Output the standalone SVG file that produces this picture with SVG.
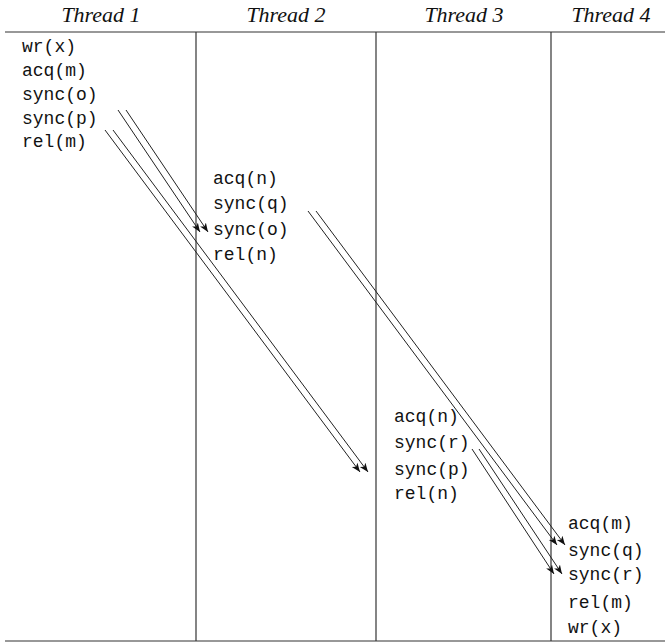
<svg xmlns="http://www.w3.org/2000/svg" width="665" height="644" viewBox="0 0 665 644">
<style>
.hdr{font-family:"Liberation Serif",serif;font-style:italic;font-size:22px;fill:#111;text-anchor:middle}
.op{font-family:"Liberation Mono",monospace;font-size:18px;fill:#111}
.rule{stroke:#333;stroke-width:1.2;fill:none}
.msg{stroke:#222;stroke-width:1;fill:none;marker-end:url(#ah)}
</style>
<defs>
<marker id="ah" markerUnits="userSpaceOnUse" markerWidth="11" markerHeight="9" refX="9" refY="3.5" orient="auto">
<path d="M0,0 L9,3.5 L0,7 L2.5,3.5 z" fill="#111"/>
</marker>
</defs>
<g id="frame">
<line class="rule" x1="5" y1="32" x2="665" y2="32"/>
<line class="rule" x1="5" y1="641" x2="665" y2="641"/>
<line class="rule" x1="196" y1="32" x2="196" y2="641"/>
<line class="rule" x1="376" y1="32" x2="376" y2="641"/>
<line class="rule" x1="551" y1="32" x2="551" y2="641"/>
</g>
<g id="thread1">
<text class="hdr" x="101" y="22">Thread 1</text>
<text class="op" x="22" y="52">wr(x)</text>
<text class="op" x="22" y="76">acq(m)</text>
<text class="op" x="22" y="100">sync(o)</text>
<text class="op" x="22" y="124">sync(p)</text>
<text class="op" x="22" y="147">rel(m)</text>
</g>
<g id="thread2">
<text class="hdr" x="286" y="22">Thread 2</text>
<text class="op" x="213" y="184">acq(n)</text>
<text class="op" x="213" y="209">sync(q)</text>
<text class="op" x="213" y="235">sync(o)</text>
<text class="op" x="213" y="260">rel(n)</text>
</g>
<g id="thread3">
<text class="hdr" x="464" y="22">Thread 3</text>
<text class="op" x="394" y="422">acq(n)</text>
<text class="op" x="394" y="448">sync(r)</text>
<text class="op" x="394" y="475">sync(p)</text>
<text class="op" x="394" y="499">rel(n)</text>
</g>
<g id="thread4">
<text class="hdr" x="611" y="22">Thread 4</text>
<text class="op" x="568" y="529">acq(m)</text>
<text class="op" x="568" y="556">sync(q)</text>
<text class="op" x="568" y="580">sync(r)</text>
<text class="op" x="568" y="608">rel(m)</text>
<text class="op" x="568" y="633">wr(x)</text>
</g>
<g id="connectors">
<line class="msg" x1="118" y1="110" x2="200" y2="232"/>
<line class="msg" x1="126" y1="110" x2="208" y2="232"/>
<line class="msg" x1="105" y1="130" x2="360" y2="472"/>
<line class="msg" x1="113" y1="130" x2="368" y2="472"/>
<line class="msg" x1="308" y1="211" x2="557" y2="545"/>
<line class="msg" x1="316" y1="211" x2="565" y2="545"/>
<line class="msg" x1="472" y1="449" x2="554" y2="574"/>
<line class="msg" x1="479" y1="449" x2="562" y2="574"/>
</g>
</svg>
